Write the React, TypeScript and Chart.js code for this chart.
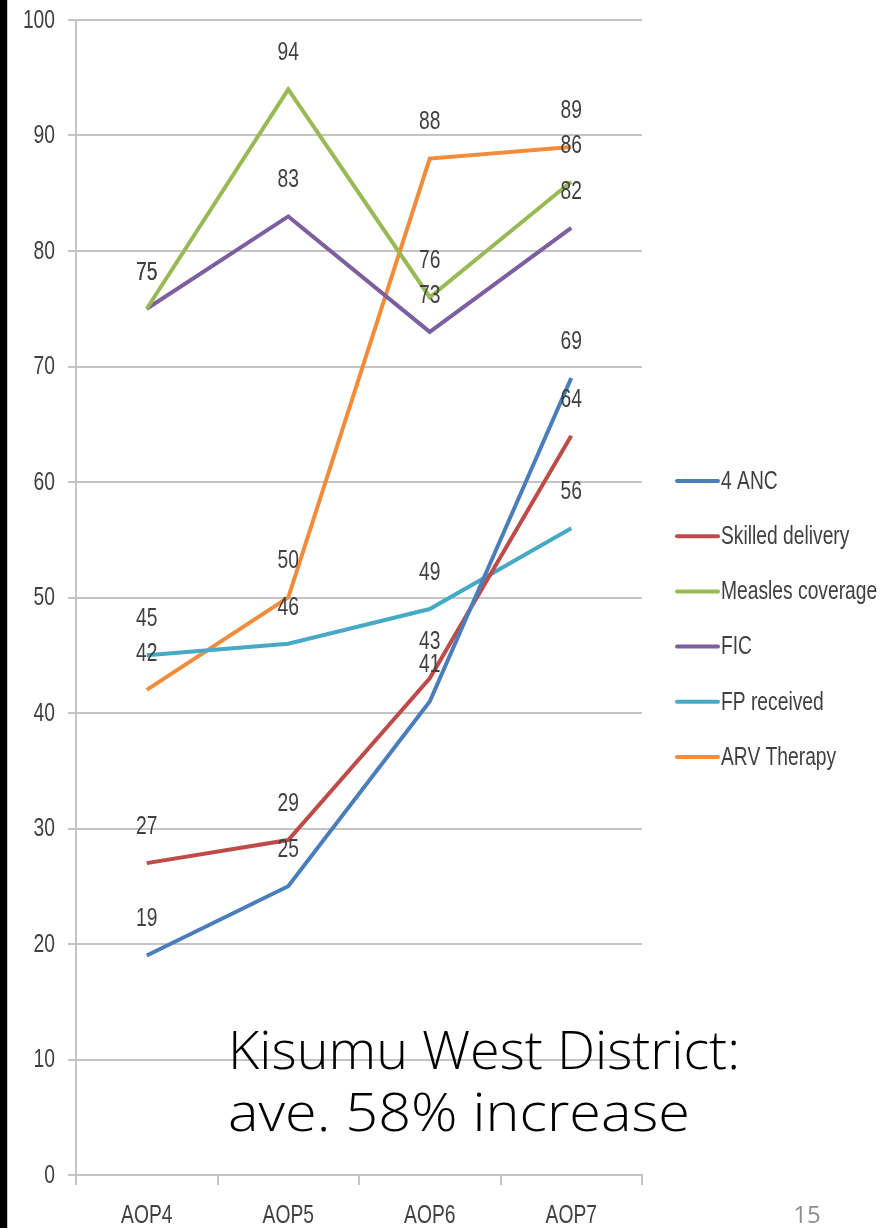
import React, { useEffect, useRef } from "react";
import { Chart, registerables } from "chart.js";

Chart.register(...registerables);

const categories = ["AOP4", "AOP5", "AOP6", "AOP7"];
const seriesNames = ["4 ANC", "Skilled delivery", "Measles coverage", "FIC", "FP received", "ARV Therapy"];
const ancValues = [19, 25, 41, 69];
const skilledValues = [27, 29, 43, 64];
const measlesValues = [75, 94, 76, 86];
const ficValues = [75, 83, 73, 82];
const fpValues = [45, 46, 49, 56];
const arvValues = [42, 50, 88, 89];
const seriesColors = ["#4A7EBB", "#BE4B48", "#98B954", "#7D5FA0", "#46AAC5", "#F28C3A"];
const yTicks = [0, 10, 20, 30, 40, 50, 60, 70, 80, 90, 100];
const noteLines = ["Kisumu West District:", "ave. 58% increase"];
const pageNumber = "15";

const FONT = "'Liberation Sans', Arial, sans-serif";
const NARROW = 0.77;
const TEXT = "#404040";

const W = 896;
const H = 1228;
const AREA_LEFT = 76;
const AREA_RIGHT = 642;
const AREA_TOP = 20;
const AREA_BOTTOM = 1175;

function narrowText(ctx: any, text: string, x: number, y: number, align: "left" | "center" | "right") {
  ctx.save();
  ctx.translate(x, y);
  ctx.scale(NARROW, 1);
  ctx.textAlign = align;
  ctx.textBaseline = "middle";
  ctx.fillText(text, 0, 0);
  ctx.restore();
}

const overlayPlugin = {
  id: "overlay",
  afterDatasetsDraw(chart: any) {
    const ctx = chart.ctx;
    const xs = chart.scales.x;
    const ys = chart.scales.y;
    ctx.save();
    ctx.font = `25px ${FONT}`;
    ctx.fillStyle = TEXT;
    // y tick labels
    ys.ticks.forEach((t: any) => {
      narrowText(ctx, String(t.value), 55, ys.getPixelForValue(t.value) + 1, "right");
    });
    // x tick labels
    categories.forEach((c, i) => {
      narrowText(ctx, c, xs.getPixelForValue(i), 1216, "center");
    });
    // data labels
    chart.data.datasets.forEach((ds: any, i: number) => {
      const meta = chart.getDatasetMeta(i);
      meta.data.forEach((pt: any, j: number) => {
        narrowText(ctx, String(ds.data[j]), pt.x, pt.y - 36, "center");
      });
    });
    // legend
    const legendTop = 481;
    const legendStep = 55.2;
    chart.data.datasets.forEach((ds: any, i: number) => {
      const y = legendTop + i * legendStep;
      ctx.strokeStyle = ds.borderColor;
      ctx.lineWidth = 4;
      ctx.lineCap = "round";
      ctx.beginPath();
      ctx.moveTo(677, y);
      ctx.lineTo(718, y);
      ctx.stroke();
      ctx.fillStyle = TEXT;
      narrowText(ctx, ds.label, 721, y + 1, "left");
    });
    // note text
    ctx.fillStyle = "#000000";
    ctx.textAlign = "left";
    ctx.textBaseline = "alphabetic";
    ctx.font = `300 54px 'Open Sans', 'DejaVu Sans', sans-serif`;
    const targets = [512, 462];
    const baselines = [1069, 1131];
    noteLines.forEach((line, k) => {
      const w = ctx.measureText(line).width;
      ctx.save();
      ctx.translate(228, baselines[k]);
      ctx.scale(targets[k] / w, 1);
      ctx.fillText(line, 0, 0);
      ctx.restore();
    });
    // page number
    ctx.fillStyle = "#8C8C8C";
    ctx.font = `24px 'Open Sans', 'Liberation Sans', sans-serif`;
    ctx.textAlign = "center";
    ctx.textBaseline = "middle";
    ctx.fillText(pageNumber, 807, 1216);
    // left dark border
    ctx.fillStyle = "#000000";
    ctx.fillRect(0, 0, 7, H);
    ctx.fillStyle = "#C8C8C8";
    ctx.fillRect(7, 0, 1, H);
    ctx.restore();
  },
};

export default function App() {
  const ref = useRef<HTMLCanvasElement | null>(null);
  useEffect(() => {
    if (!ref.current) return;
    const values = [ancValues, skilledValues, measlesValues, ficValues, fpValues, arvValues];
    const chart = new Chart(ref.current, {
      type: "line",
      data: {
        labels: categories,
        datasets: seriesNames.map((name, i) => ({
          label: name,
          data: values[i],
          borderColor: seriesColors[i],
          backgroundColor: seriesColors[i],
          borderWidth: 4,
          pointRadius: 0,
          tension: 0,
        })),
      },
      options: {
        animation: false,
        responsive: false,
        maintainAspectRatio: false,
        layout: { padding: { left: 0, right: W - AREA_RIGHT, top: AREA_TOP, bottom: 0 } },
        plugins: { legend: { display: false }, tooltip: { enabled: false } },
        scales: {
          x: {
            offset: true,
            grid: {
              offset: true,
              drawOnChartArea: false,
              drawTicks: true,
              tickLength: 10,
              color: "#C4C4C4",
              lineWidth: 2,
            },
            border: { display: true, color: "#C4C4C4", width: 2 },
            ticks: { display: false },
            afterFit: (scale: any) => {
              scale.height = H - AREA_BOTTOM;
            },
          },
          y: {
            min: 0,
            max: 100,
            afterBuildTicks: (scale: any) => {
              scale.ticks = yTicks.map((v) => ({ value: v }));
            },
            grid: { color: "#C4C4C4", lineWidth: 2, tickLength: 8 },
            border: { display: true, color: "#C4C4C4", width: 2 },
            ticks: { display: false },
            afterFit: (scale: any) => {
              scale.width = AREA_LEFT;
            },
          },
        },
      },
      plugins: [overlayPlugin],
    });
    return () => chart.destroy();
  }, []);
  return (
    <div style={{ position: "absolute", left: 0, top: 0, width: W, height: H, background: "#FFFFFF" }}>
      <canvas ref={ref} width={W} height={H} style={{ display: "block", width: W, height: H }} />
    </div>
  );
}
